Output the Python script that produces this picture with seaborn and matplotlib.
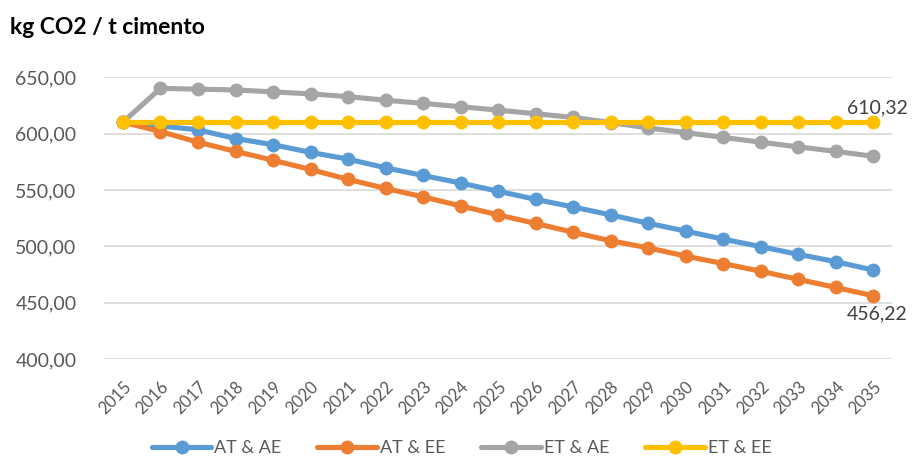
import matplotlib
matplotlib.use("Agg")
import matplotlib.pyplot as plt
import seaborn as sns
import pandas as pd
from matplotlib.ticker import FuncFormatter

years = list(range(2015, 2036))
at_ae = [610.32, 607.0, 603.5, 595.8, 590.3, 583.5, 577.5, 569.8, 563.0, 556.3, 549.0,
         541.8, 535.0, 528.0, 520.6, 513.6, 506.5, 499.8, 493.0, 486.5, 479.0]
at_ee = [610.32, 602.0, 592.5, 584.4, 576.5, 568.3, 559.5, 551.5, 544.0, 536.0, 528.0,
         520.4, 512.6, 505.0, 498.8, 491.4, 484.8, 478.0, 470.8, 463.6, 456.22]
et_ae = [610.32, 640.3, 639.6, 638.9, 637.2, 635.4, 633.0, 629.8, 627.0, 624.0, 621.0,
         617.8, 614.5, 610.0, 605.2, 601.0, 596.8, 592.5, 588.4, 584.4, 580.0]
et_ee = [610.32] * 21
series_names = ["AT & AE", "AT & EE", "ET & AE", "ET & EE"]
colors = ["#5B9BD5", "#ED7D31", "#A5A5A5", "#FFC000"]
title = "kg CO2 / t cimento"

rows = []
for name, vals in zip(series_names, [at_ae, at_ee, et_ae, et_ee]):
    for y, v in zip(years, vals):
        rows.append({"year": y, "value": v, "series": name})
df = pd.DataFrame(rows)

sns.set_style("white")
plt.rcParams["font.family"] = ["Lato", "DejaVu Sans"]

fig = plt.figure(figsize=(9.14, 4.61), dpi=100)
ax = fig.add_axes([0.114, 0.221, 0.862, 0.611])

sns.lineplot(data=df, x="year", y="value", hue="series", hue_order=series_names,
             palette=colors, marker="o", markersize=10, markeredgewidth=0,
             linewidth=3.7, ax=ax, legend=True)

ax.set_xlim(years[0] - 0.5, years[-1] + 0.5)
ax.set_ylim(400, 650)
ax.set_yticks([400, 450, 500, 550, 600, 650])
ax.yaxis.set_major_formatter(FuncFormatter(lambda v, p: f"{v:.2f}".replace(".", ",")))
ax.set_xticks(years)
ax.set_xticklabels([str(y) for y in years], rotation=45, ha="right",
                   rotation_mode="anchor", fontsize=12, color="#595959")
ax.tick_params(axis="y", labelsize=14, colors="#595959", length=0, pad=20)
ax.tick_params(axis="x", length=0, pad=14)
ax.grid(axis="y", color="#D9D9D9", linewidth=1.2)
ax.set_axisbelow(True)
for s in ax.spines.values():
    s.set_visible(False)
ax.set_xlabel("")
ax.set_ylabel("")

ax.annotate(f"{et_ee[-1]:.2f}".replace(".", ","), (years[-1], et_ee[-1]),
            xytext=(3, 4), textcoords="offset points", ha="center", va="bottom",
            fontsize=14, color="#404040")
ax.annotate(f"{at_ee[-1]:.2f}".replace(".", ","), (years[-1], at_ee[-1]),
            xytext=(3, -7), textcoords="offset points", ha="center", va="top",
            fontsize=14, color="#404040")

fig.text(0.011, 0.941, title, fontsize=16.5, fontweight="bold", color="#000000",
         ha="left", va="center")

handles, labels = ax.get_legend_handles_labels()
ax.get_legend().remove()
fig.legend(handles, labels, loc="center", bbox_to_anchor=(0.505, 0.028), ncol=4,
           frameon=False, fontsize=13, labelcolor="#595959", handlelength=3.3,
           handletextpad=0.15, columnspacing=2.0)

fig.savefig("out.png", dpi=100)
